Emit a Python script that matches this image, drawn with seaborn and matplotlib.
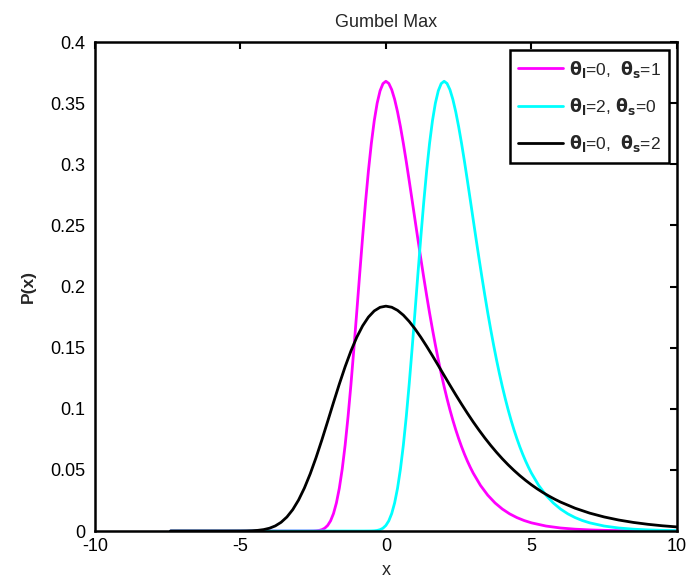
import matplotlib
matplotlib.use("Agg")
import matplotlib.pyplot as plt
import seaborn as sns
import pandas as pd

# Magenta: theta_l=0, theta_s=1
x_mag = [-7.4, -3.0, -2.75,
         -2.5, -2.4, -2.3, -2.2, -2.1, -2.0, -1.9, -1.8, -1.7, -1.6, -1.5, -1.4, -1.3, -1.2,
         -1.1, -1.0, -0.9, -0.8, -0.7, -0.6, -0.5, -0.4, -0.3, -0.2, -0.1, 0.0, 0.1, 0.2,
         0.3, 0.4, 0.5, 0.6, 0.7, 0.8, 0.9, 1.0, 1.1, 1.2, 1.3, 1.4, 1.5, 1.6, 1.7, 1.8,
         1.9, 2.0, 2.1, 2.2, 2.3, 2.4, 2.5, 2.6, 2.7, 2.8, 2.9, 3.0,
         3.25, 3.5, 3.75, 4.0, 4.25, 4.5, 4.75, 5.0, 5.5, 6.0, 6.5, 7.0, 7.5, 8.0, 9.0, 10.0]
y_mag = [0.0, 0.0, 0.0000025,
         0.0000624, 0.0001799, 0.0004647, 0.0010863, 0.002320, 0.004566, 0.008347, 0.014270,
         0.022963, 0.034979, 0.05071, 0.070284, 0.093546, 0.120019, 0.148941, 0.17933,
         0.21022, 0.24038, 0.26881, 0.29462, 0.31704, 0.33561, 0.34999, 0.36009, 0.36598,
         0.36788, 0.36611, 0.36105, 0.35317, 0.34290, 0.33071, 0.31702, 0.30224, 0.28671,
         0.27075, 0.25465, 0.23862, 0.22286, 0.20752, 0.19270, 0.17846, 0.16499, 0.15218,
         0.14011, 0.12879, 0.11820, 0.10834, 0.09918, 0.09069, 0.08285, 0.07562, 0.06896,
         0.06284, 0.05722, 0.05208, 0.04737,
         0.03730, 0.02930, 0.02297, 0.01798, 0.01406, 0.01099, 0.008577, 0.006693, 0.004070,
         0.002473, 0.001501, 0.000912, 0.000553, 0.000335, 0.000123, 0.0000454]

# Cyan: theta_l=2
x_cyan = [-7.4, -1.0, -0.75,
          -0.5, -0.4, -0.3, -0.2, -0.1, 0.0, 0.1, 0.2, 0.3, 0.4, 0.5, 0.6, 0.7, 0.8, 0.9,
          1.0, 1.1, 1.2, 1.3, 1.4, 1.5, 1.6, 1.7, 1.8, 1.9, 2.0, 2.1, 2.2, 2.3, 2.4, 2.5,
          2.6, 2.7, 2.8, 2.9, 3.0, 3.1, 3.2, 3.3, 3.4, 3.5, 3.6, 3.7, 3.8, 3.9, 4.0, 4.1,
          4.2, 4.3, 4.4, 4.5, 4.6, 4.7, 4.8, 4.9, 5.0,
          5.25, 5.5, 5.75, 6.0, 6.25, 6.5, 6.75, 7.0, 7.5, 8.0, 8.5, 9.0, 9.5, 10.0]
y_cyan = [0.0, 0.0, 0.0000025,
          0.0000624, 0.0001799, 0.0004647, 0.0010863, 0.002320, 0.004566, 0.008347, 0.014270,
          0.022963, 0.034979, 0.05071, 0.070284, 0.093546, 0.120019, 0.148941, 0.17933,
          0.21022, 0.24038, 0.26881, 0.29462, 0.31704, 0.33561, 0.34999, 0.36009, 0.36598,
          0.36788, 0.36611, 0.36105, 0.35317, 0.34290, 0.33071, 0.31702, 0.30224, 0.28671,
          0.27075, 0.25465, 0.23862, 0.22286, 0.20752, 0.19270, 0.17846, 0.16499, 0.15218,
          0.14011, 0.12879, 0.11820, 0.10834, 0.09918, 0.09069, 0.08285, 0.07562, 0.06896,
          0.06284, 0.05722, 0.05208, 0.04737,
          0.03730, 0.02930, 0.02297, 0.01798, 0.01406, 0.01099, 0.008577, 0.006693, 0.004070,
          0.002473, 0.001501, 0.000912, 0.000553, 0.000335]

# Black: theta_s=2
x_blk = [-7.4, -6.0, -5.5,
         -5.0, -4.8, -4.6, -4.4, -4.2, -4.0, -3.8, -3.6, -3.4, -3.2, -3.0, -2.8, -2.6, -2.4,
         -2.2, -2.0, -1.8, -1.6, -1.4, -1.2, -1.0, -0.8, -0.6, -0.4, -0.2, 0.0, 0.2, 0.4,
         0.6, 0.8, 1.0, 1.2, 1.4, 1.6, 1.8, 2.0, 2.2, 2.4, 2.6, 2.8, 3.0, 3.2, 3.4, 3.6,
         3.8, 4.0, 4.2, 4.4, 4.6, 4.8, 5.0, 5.2, 5.4, 5.6, 5.8, 6.0,
         6.5, 7.0, 7.5, 8.0, 8.5, 9.0, 9.5, 10.0]
y_blk = [0.0, 0.0, 0.0000012,
         0.0000312, 0.0000900, 0.000232, 0.000543, 0.001160, 0.002283, 0.004174, 0.007135,
         0.011482, 0.017490, 0.025355, 0.035142, 0.046773, 0.060010, 0.074471, 0.089665,
         0.10511, 0.12019, 0.13441, 0.14731, 0.15852, 0.16781, 0.17500, 0.18005, 0.18299,
         0.18394, 0.18306, 0.18053, 0.17659, 0.17145, 0.16536, 0.15851, 0.15112, 0.14336,
         0.13538, 0.12733, 0.11931, 0.11143, 0.10376, 0.09635, 0.08923, 0.08250, 0.07609,
         0.07006, 0.06440, 0.05910, 0.05417, 0.04959, 0.04535, 0.04143, 0.03781, 0.03448,
         0.03142, 0.02861, 0.02604, 0.02369,
         0.01865, 0.01465, 0.01149, 0.00899, 0.007029, 0.005495, 0.004288, 0.003347]

labels = [r'$\mathbf{\theta_l}$=0,  $\mathbf{\theta_s}$=1',
          r'$\mathbf{\theta_l}$=2, $\mathbf{\theta_s}$=0',
          r'$\mathbf{\theta_l}$=0,  $\mathbf{\theta_s}$=2']
colors = ['#ff00ff', '#00ffff', '#000000']

x_ticks = [-10, -5, 0, 5, 10]
y_ticks = [0, 0.05, 0.1, 0.15, 0.2, 0.25, 0.3, 0.35, 0.4]
y_tick_labels = ['0', '0.05', '0.1', '0.15', '0.2', '0.25', '0.3', '0.35', '0.4']

sns.set_theme(style="white")
plt.rcParams['font.family'] = ['Liberation Sans', 'DejaVu Sans']
plt.rcParams['mathtext.fontset'] = 'dejavusans'

fig = plt.figure(figsize=(6.87, 5.82), dpi=100)
ax = fig.add_axes([0.138, 0.0876, 0.8474, 0.8402])

for xs, ys, c, lab in zip([x_mag, x_cyan, x_blk], [y_mag, y_cyan, y_blk], colors, labels):
    df = pd.DataFrame({'x': xs, 'y': ys})
    sns.lineplot(data=df, x='x', y='y', color=c, linewidth=2, label=lab, ax=ax,
                 estimator=None, sort=True)

ax.set_xlim(-10, 10)
ax.set_ylim(0, 0.4)
ax.set_xticks(x_ticks)
ax.set_xticklabels([str(t) for t in x_ticks])
ax.set_yticks(y_ticks)
ax.set_yticklabels(y_tick_labels)
ax.tick_params(direction='in', length=5, width=1.5, top=True, right=True,
               labelsize=13, colors='black')
ax.tick_params(axis='x', pad=5)
ax.tick_params(axis='y', pad=7)
for s in ax.spines.values():
    s.set_color('black')
    s.set_linewidth(1.8)

ax.set_title('Gumbel Max', fontsize=13, pad=11)
ax.set_xlabel('x', fontsize=13, labelpad=5)
ax.set_ylabel('P(x)', fontsize=12.5, fontweight='bold', labelpad=10)

leg = ax.legend(loc='upper right', fontsize=12.5, frameon=True, fancybox=False,
                edgecolor='black', framealpha=1, handlelength=2.6, borderaxespad=0.45,
                labelspacing=0.95, handletextpad=0.3, borderpad=0.5)
leg.get_frame().set_linewidth(1.8)

fig.savefig('out.png', dpi=100, facecolor='white')
